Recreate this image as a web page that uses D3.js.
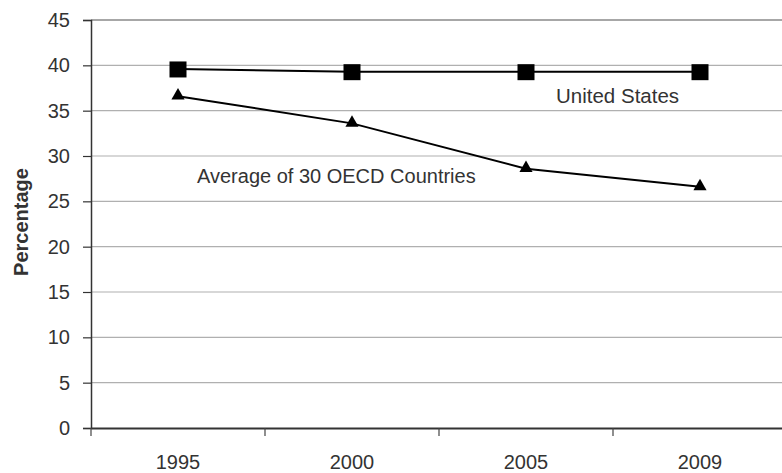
<!DOCTYPE html>
<html><head><meta charset="utf-8">
<script src="https://cdn.jsdelivr.net/npm/d3@7"></script>
<style>body{margin:0;background:#fff}svg{display:block;font-family:"Liberation Sans",Arial,sans-serif}</style>
</head><body><svg id="c" width="782" height="473"></svg>
<script>
const years = ["1995","2000","2005","2009"];
const usValues = [39.6, 39.3, 39.3, 39.3];
const oecdValues = [36.6, 33.6, 28.6, 26.6];
const yTicks = [0,5,10,15,20,25,30,35,40,45];
const seriesLabels = ["United States","Average of 30 OECD Countries"];

const svg = d3.select("#c");
const mLeft = 91, bandW = 174, mTop = 20, mBottom = 428;
const x = d3.scaleBand().domain(years).range([mLeft, mLeft + bandW*years.length]);
const y = d3.scaleLinear().domain([0,45]).range([mBottom, mTop]);
const txt = "#333";
const fs = "20px";

// gridlines
svg.append("g").selectAll("line").data(yTicks.filter(d=>d>0)).join("line")
  .attr("x1", mLeft).attr("x2", 790).attr("y1", d=>y(d)).attr("y2", d=>y(d))
  .attr("stroke", d=> d===45 ? "#8a8a8a" : "#b0b0b0").attr("stroke-width", d=> d===45?1.5:1.2);

// y axis
const ya = svg.append("g").attr("transform", `translate(${mLeft},0)`)
  .call(d3.axisLeft(y).tickValues(yTicks).tickSize(8).tickPadding(13).tickFormat(d3.format("d")));
ya.attr("font-size", null).attr("font-family", null);
ya.select(".domain").attr("stroke", "#333").attr("stroke-width", 1.5);
ya.selectAll(".tick line").attr("stroke", "#333").attr("stroke-width", 1.2);
ya.selectAll("text").attr("fill", txt).style("font-size", fs);

// x axis
const xa = svg.append("g").attr("transform", `translate(0,${mBottom})`)
  .call(d3.axisBottom(x).tickSize(0).tickPadding(27));
xa.attr("font-size", null).attr("font-family", null);
xa.select(".domain").attr("stroke", "#333").attr("stroke-width", 2);
xa.selectAll("text").attr("fill", txt).style("font-size", fs);
// category separator ticks
svg.append("g").selectAll("line").data(d3.range(years.length+1)).join("line")
  .attr("x1", i=>mLeft + i*bandW).attr("x2", i=>mLeft + i*bandW)
  .attr("y1", mBottom).attr("y2", mBottom+8).attr("stroke", "#444").attr("stroke-width", 1.2);

// y title
svg.append("text").attr("transform", `translate(28,${(mTop+mBottom)/2 - 2}) rotate(-90)`)
  .attr("text-anchor","middle").attr("fill", txt).style("font-size","20px").style("font-weight","bold")
  .text("Percentage");

const cx = d => x(d) + x.bandwidth()/2;
const line = d3.line().x((d,i)=>cx(years[i])).y(d=>y(d));

// US
svg.append("path").datum(usValues).attr("d", line).attr("fill","none").attr("stroke","#000").attr("stroke-width",2);
svg.append("g").selectAll("rect").data(usValues).join("rect")
  .attr("x",(d,i)=>cx(years[i])-8.5).attr("y", d=>y(d)-7.5).attr("width",17).attr("height",16).attr("fill","#000");

// OECD
svg.append("path").datum(oecdValues).attr("d", line).attr("fill","none").attr("stroke","#000").attr("stroke-width",2);
const tri = d3.symbol().type(d3.symbolTriangle).size(75);
svg.append("g").selectAll("path").data(oecdValues).join("path")
  .attr("d", tri).attr("transform",(d,i)=>`translate(${cx(years[i])},${y(d)-0.5})`).attr("fill","#000");

// labels
svg.append("text").attr("x", 556).attr("y", 103).attr("fill", txt).style("font-size","20.5px").text(seriesLabels[0]);
svg.append("text").attr("x", 197).attr("y", 183).attr("fill", txt).style("font-size","20px").text(seriesLabels[1]);
</script></body></html>
